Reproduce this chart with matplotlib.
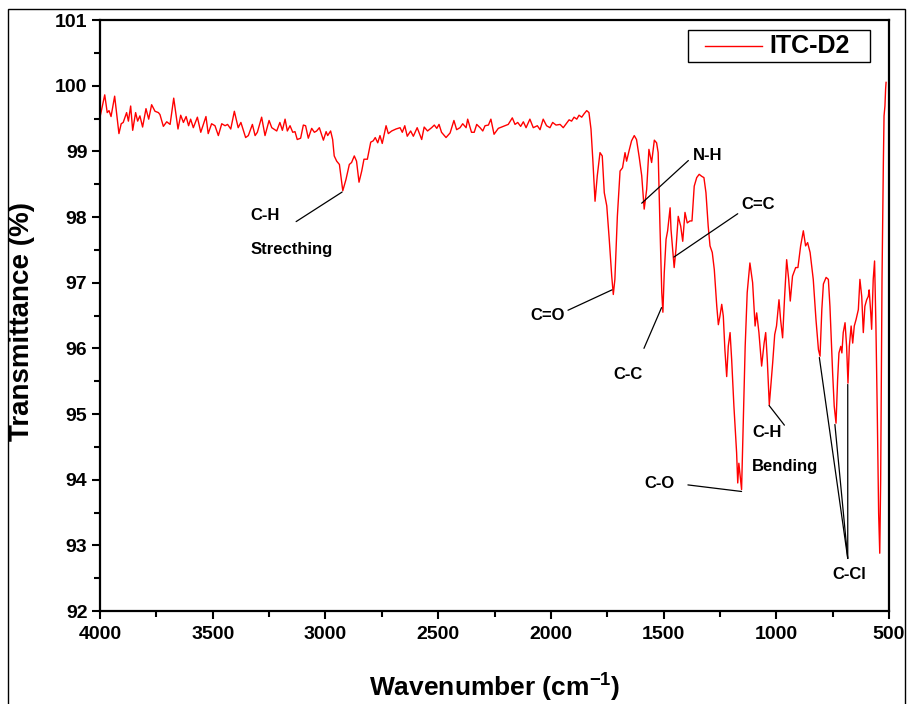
import matplotlib
matplotlib.use("Agg")
import matplotlib.pyplot as plt
from matplotlib.patches import Rectangle
from matplotlib.lines import Line2D
from matplotlib.ticker import MultipleLocator

plt.rcParams['font.family'] = ['Liberation Sans', 'DejaVu Sans']
plt.rcParams['font.weight'] = 'bold'
plt.rcParams['mathtext.fontset'] = 'custom'
plt.rcParams['mathtext.rm'] = 'Liberation Sans:bold'
plt.rcParams['mathtext.bf'] = 'Liberation Sans:bold'

# FTIR spectrum of ITC-D2 -------------------------------------------------------------------
series_name = 'ITC-D2'
wavenumber = [
    4000, 3979, 3968, 3960, 3951, 3935, 3916, 3906, 3897, 3882, 3874, 3864, 3855, 3842, 3833,
    3823, 3811, 3796, 3784, 3771, 3756, 3741, 3734, 3719, 3704, 3689, 3673, 3654, 3642, 3630,
    3618, 3607, 3598, 3586, 3568, 3553, 3530, 3520, 3505, 3490, 3475, 3460, 3445, 3434, 3420,
    3404, 3387, 3375, 3354, 3342, 3324, 3312, 3302, 3283, 3268, 3250, 3238, 3216, 3202, 3191,
    3179, 3169, 3157,
    3145, 3135, 3125, 3110, 3098, 3088, 3076, 3061, 3049, 3039, 3027, 3009, 2997, 2990, 2977,
    2968, 2961, 2950, 2938, 2923, 2909, 2894, 2884, 2872, 2862, 2851, 2839, 2829, 2814, 2799,
    2788, 2779, 2768, 2758, 2748, 2731, 2721, 2706, 2687, 2669, 2659, 2648, 2637, 2622, 2610,
    2593, 2573, 2562, 2547, 2529, 2517, 2506, 2496, 2485, 2465, 2447, 2430, 2418, 2403, 2391,
    2376, 2369, 2352, 2340, 2329, 2314,
    2302, 2292, 2277, 2266, 2252, 2233, 2211, 2189, 2171, 2159, 2147, 2134, 2122, 2110, 2093,
    2078, 2060, 2048, 2034, 2019, 2004, 1992, 1977, 1959, 1945, 1930, 1919, 1908, 1897, 1885,
    1875, 1863, 1853, 1841, 1831, 1822, 1814, 1804, 1794, 1782, 1772, 1763, 1752, 1741, 1730,
    1723, 1716, 1705, 1693, 1682, 1671, 1664, 1653, 1642, 1630, 1620, 1608, 1597, 1586, 1575,
    1565, 1553, 1541, 1531, 1524, 1516, 1508, 1503, 1497, 1489, 1482, 1471,
    1467, 1453, 1445, 1435, 1424, 1415, 1405, 1395, 1383, 1374, 1364, 1353, 1342, 1331, 1321,
    1312, 1302, 1294, 1284, 1275, 1264, 1257, 1250, 1242, 1235, 1228, 1220, 1213, 1205, 1198,
    1188, 1176, 1171, 1166, 1160, 1154, 1147, 1138, 1129, 1117, 1105, 1094, 1087, 1077, 1065,
    1054, 1047, 1040, 1031, 1021,
    1016, 1007, 999, 988, 981, 972, 963, 954, 945, 938, 928, 914, 904, 892, 880,
    870, 861, 850, 836, 824, 813, 806, 798, 791, 779, 769, 762, 750, 743, 735,
    728, 722, 714, 709, 703, 695, 688, 682, 676, 668, 661, 654, 646, 636, 629,
    621, 614, 607, 599, 592, 588, 581, 577, 570, 564, 558, 552, 546, 541, 537,
    531, 525, 522, 518, 515, 513,
]
transmittance = [
    99.52, 99.86, 99.59, 99.62, 99.53, 99.84, 99.27, 99.42, 99.44, 99.59, 99.46, 99.69, 99.32, 99.59, 99.46,
    99.54, 99.37, 99.65, 99.49, 99.71, 99.61, 99.59, 99.56, 99.38, 99.45, 99.41, 99.81, 99.34, 99.55, 99.44,
    99.53, 99.39, 99.49, 99.36, 99.52, 99.29, 99.53, 99.27, 99.42, 99.39, 99.24, 99.42, 99.39, 99.41, 99.34,
    99.61, 99.36, 99.44, 99.21, 99.24, 99.41, 99.24, 99.29, 99.52, 99.24, 99.47, 99.36, 99.31, 99.44, 99.32,
    99.49, 99.31, 99.39,
    99.29, 99.30, 99.18, 99.20, 99.40, 99.39, 99.20, 99.35, 99.29, 99.31, 99.36, 99.17, 99.30, 99.24, 99.31,
    99.18, 98.93, 98.85, 98.80, 98.40, 98.57, 98.80, 98.83, 98.93, 98.85, 98.53, 98.70, 98.88, 98.88, 99.14,
    99.16, 99.21, 99.13, 99.24, 99.12, 99.39, 99.27, 99.31, 99.34, 99.36, 99.29, 99.39, 99.23, 99.31, 99.23,
    99.36, 99.18, 99.37, 99.31, 99.36, 99.40, 99.35, 99.41, 99.29, 99.21, 99.28, 99.47, 99.33, 99.36, 99.42,
    99.36, 99.49, 99.29, 99.29, 99.41, 99.36,
    99.31, 99.39, 99.40, 99.49, 99.26, 99.35, 99.38, 99.41, 99.51, 99.41, 99.44, 99.38, 99.45, 99.36, 99.49,
    99.36, 99.39, 99.33, 99.49, 99.39, 99.36, 99.44, 99.40, 99.41, 99.36, 99.43, 99.48, 99.46, 99.52, 99.49,
    99.55, 99.52, 99.57, 99.62, 99.59, 99.34, 98.88, 98.24, 98.63, 98.98, 98.93, 98.37, 98.17, 97.66, 97.10,
    96.82, 97.05, 98.01, 98.70, 98.75, 98.98, 98.85, 99.01, 99.16, 99.24, 99.18, 98.91, 98.63, 98.12, 98.42,
    99.03, 98.83, 99.17, 99.13, 98.98, 97.86, 96.85, 96.55, 97.15, 97.66, 97.79, 98.14,
    97.81, 97.23, 97.51, 98.01, 97.86, 97.63, 98.07, 97.91, 97.94, 97.94, 98.47, 98.60, 98.65, 98.62, 98.60,
    98.37, 97.86, 97.56, 97.46, 97.20, 96.64, 96.36, 96.49, 96.67, 96.49, 95.98, 95.57, 96.03, 96.24, 95.83,
    95.12, 94.41, 93.95, 94.25, 94.05, 93.85, 94.81, 96.03, 96.85, 97.30, 97.00, 96.34, 96.54, 96.24, 95.73,
    96.08, 96.24, 95.83, 95.14, 95.57,
    95.78, 96.21, 96.34, 96.74, 96.44, 96.16, 96.79, 97.35, 97.05, 96.72, 97.10, 97.23, 97.23, 97.56, 97.79,
    97.56, 97.61, 97.46, 97.05, 96.44, 95.98, 95.88, 96.59, 96.98, 97.08, 97.05, 96.64, 95.62, 95.12, 94.86,
    95.52, 95.93, 96.03, 95.93, 96.24, 96.39, 96.03, 95.47, 96.03, 96.34, 96.08, 96.34, 96.44, 96.59, 97.05,
    96.79, 96.24, 96.64, 96.74, 96.79, 96.89, 96.54, 96.29, 97.05, 97.33, 96.34, 95.01, 93.49, 92.88, 94.00,
    97.05, 98.83, 99.54, 99.69, 99.95, 100.05,
]

# peak labels: text, text position, text alignment
label_text = ['C-H', 'Strecthing', 'C=O', 'N-H', 'C=C', 'C-C', 'C-O', 'C-H', 'Bending', 'C-Cl']
label_wn   = [3334, 3334, 2013, 1303, 1081, 1658, 1520, 1108, 1108, 678]
label_t    = [98.03, 97.51, 96.50, 98.94, 98.19, 95.60, 93.94, 94.72, 94.20, 92.55]
label_ha   = ['left', 'left', 'center', 'center', 'center', 'center', 'center', 'left', 'left', 'center']

# leader lines: (start wn, start T) -> (end wn, end T)
leader_start = [(3130, 97.93), (1924, 96.58), (1597, 98.21), (1454, 97.39), (1587, 96.00),
                (1392, 93.92), (1032, 95.13), (683, 92.80), (683, 92.80), (683, 92.80)]
leader_end   = [(2926, 98.38), (1729, 96.89), (1390, 98.86), (1171, 98.05), (1509, 96.62),
                (1154, 93.82), (964, 94.83), (809, 95.86), (740, 94.84), (683, 95.45)]

# Plotting ----------------------------------------------------------------------------------------
fig = plt.figure(figsize=(9.11, 7.04), dpi=100)
ax = fig.add_axes([100/911, 1 - 611/704, 789/911, 591/704])

ax.plot(wavenumber, transmittance, color='#ff0000', lw=1.0, label=series_name)

for (x0, y0), (x1, y1) in zip(leader_start, leader_end):
    ax.annotate('', xy=(x1, y1), xytext=(x0, y0),
                arrowprops=dict(arrowstyle='-', color='black', lw=0.9, shrinkA=0, shrinkB=0))
for txt, x, y, ha in zip(label_text, label_wn, label_t, label_ha):
    ax.text(x, y, txt, ha=ha, va='center', fontsize=12, fontweight='bold')

ax.set_xlim(4000, 500)
ax.set_ylim(92, 101)
ax.xaxis.set_major_locator(MultipleLocator(500))
ax.xaxis.set_minor_locator(MultipleLocator(250))
ax.yaxis.set_major_locator(MultipleLocator(1))
ax.yaxis.set_minor_locator(MultipleLocator(0.5))
ax.tick_params(which='both', direction='out', top=False, right=False, width=1.5, labelsize=14)
ax.tick_params(which='major', length=6)
ax.tick_params(which='minor', length=4)
ax.tick_params(axis='x', pad=5)
ax.tick_params(axis='y', pad=3)
for lab in ax.get_xticklabels() + ax.get_yticklabels():
    lab.set_fontweight('bold')
for sp in ax.spines.values():
    sp.set_linewidth(1.6)

ax.set_xlabel('Wavenumber (cm$^{-1}$)', fontsize=19, fontweight='bold')
ax.set_ylabel('Transmittance (%)', fontsize=20, fontweight='bold')
ax.xaxis.set_label_coords(0.5, -0.1)
ax.yaxis.set_label_coords(-0.083, 0.49)

# legend box drawn in axes coordinates (Origin style: wide sample line, square frame)
ax.add_patch(Rectangle((0.745, 0.929), 0.231, 0.054, transform=ax.transAxes,
                       facecolor='white', edgecolor='black', lw=1.0, zorder=5))
ax.add_line(Line2D([0.767, 0.839], [0.956, 0.956], transform=ax.transAxes,
                   color='#ff0000', lw=1.0, zorder=6))
ax.text(0.849, 0.956, series_name, transform=ax.transAxes, ha='left', va='center',
        fontsize=18, fontweight='bold', zorder=6)

# outer frame round the figure
fig.patches.append(Rectangle((8/911, -0.05), 897/911, 1.05 - 9/704, transform=fig.transFigure,
                             fill=False, edgecolor='black', lw=1.0))

fig.savefig('out.png', dpi=100)
